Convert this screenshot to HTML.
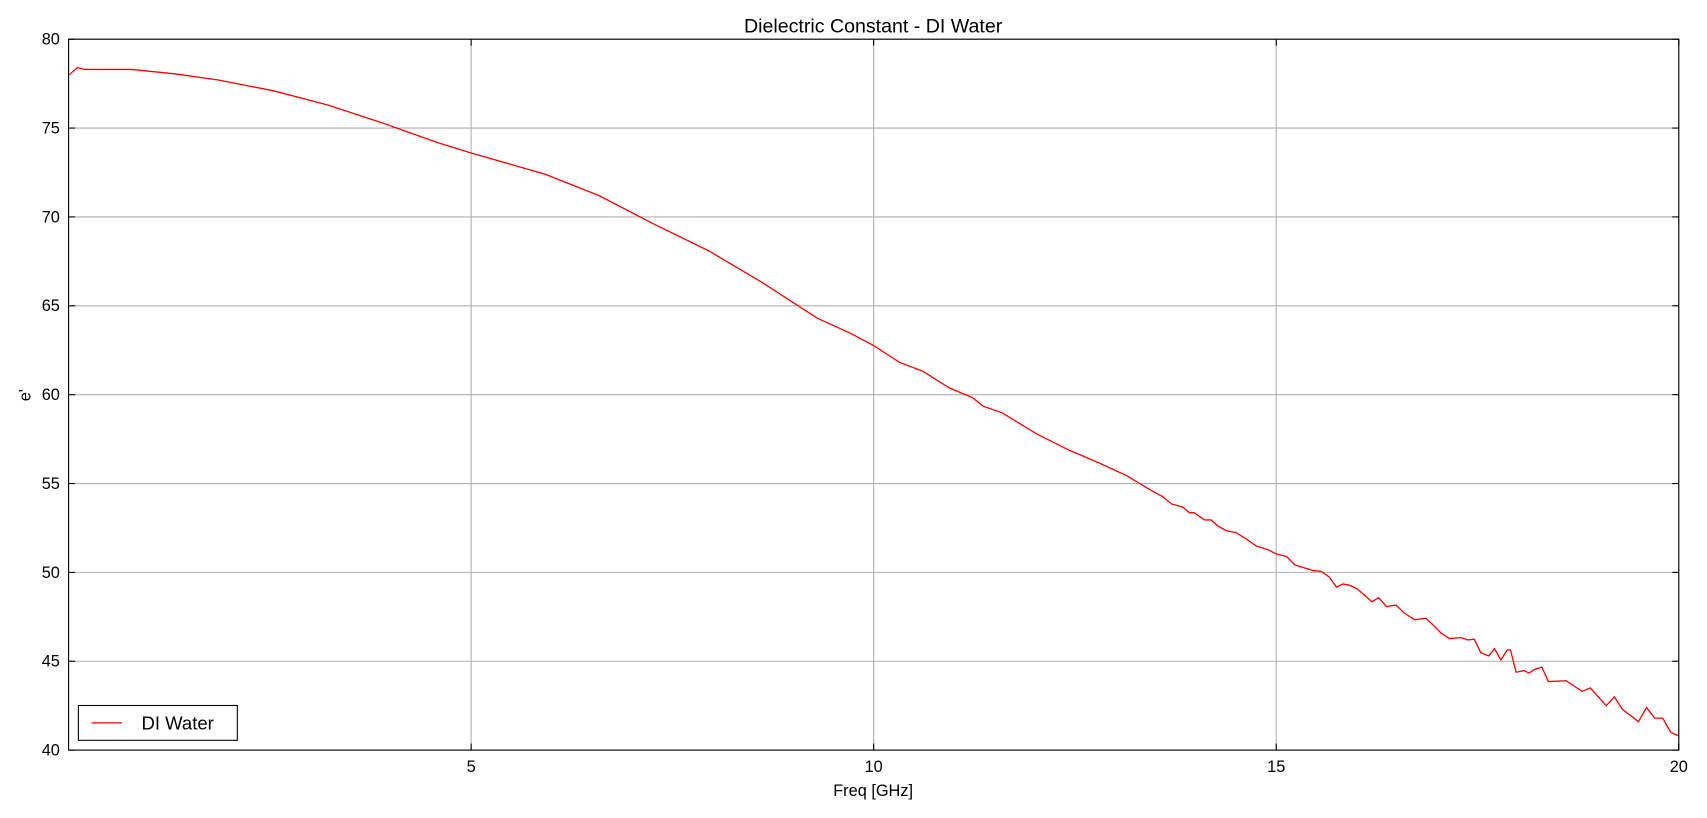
<!DOCTYPE html>
<html><head><meta charset="utf-8"><style>
html,body{margin:0;padding:0;background:#fff;overflow:hidden;}
svg text{font-family:"Liberation Sans","DejaVu Sans",sans-serif;fill:#000;}
</style></head><body>
<svg id="chart" width="1707" height="813" xmlns="http://www.w3.org/2000/svg">
<rect width="1707" height="813" fill="#fff"/>
<g transform="scale(1.0887)">
<g id="grid"></g>
<g id="series"></g>
<rect x="63" y="36" width="1479" height="653" fill="none" stroke="#000" stroke-width="1"/>
<g id="ticks"></g>
<text x="802" y="30" font-size="18" text-anchor="middle">Dielectric Constant - DI Water</text>
<text x="802" y="731" font-size="15" text-anchor="middle">Freq [GHz]</text>
<text x="28" y="363" font-size="15" text-anchor="middle" transform="rotate(-90 28 363)">e'</text>
<g>
<rect x="72" y="648" width="146" height="32" fill="#fff" stroke="#000"/>
<line x1="84" y1="664" x2="112" y2="664" stroke="#f00" stroke-width="1.2"/>
<text x="130" y="670" font-size="17">DI Water</text>
</g>
</g>
</svg>
<script>
const freqs=[0.01,0.11,0.2,0.78,1.32,1.86,2.54,3.22,3.89,4.57,5.0,5.92,6.59,7.27,7.95,8.62,9.3,9.70,10.0,10.32,10.61,10.94,11.23,11.36,11.6,12.02,12.43,12.76,13.14,13.43,13.59,13.70,13.84,13.92,13.98,14.11,14.19,14.28,14.38,14.50,14.63,14.75,14.90,15.00,15.13,15.23,15.46,15.56,15.66,15.75,15.83,15.91,16.01,16.19,16.27,16.37,16.49,16.59,16.72,16.86,16.97,17.05,17.15,17.30,17.38,17.46,17.54,17.64,17.71,17.79,17.87,17.91,17.98,18.08,18.14,18.20,18.30,18.38,18.6,18.8,18.9,19.1,19.2,19.3,19.5,19.6,19.7,19.8,19.9,20];
const values=[78.0,78.4,78.3,78.3,78.05,77.7,77.1,76.3,75.3,74.2,73.6,72.4,71.2,69.6,68.1,66.3,64.3,63.48,62.76,61.82,61.32,60.38,59.82,59.35,58.97,57.8,56.87,56.24,55.45,54.66,54.26,53.85,53.67,53.36,53.36,52.95,52.95,52.6,52.35,52.24,51.88,51.49,51.27,51.04,50.89,50.42,50.1,50.06,49.73,49.17,49.35,49.28,49.06,48.34,48.58,48.08,48.16,47.71,47.33,47.42,46.95,46.58,46.28,46.33,46.2,46.24,45.49,45.3,45.71,45.08,45.64,45.64,44.38,44.48,44.33,44.52,44.67,43.86,43.9,43.3,43.5,42.5,43.0,42.3,41.6,42.4,41.8,41.8,41.0,40.8];
const xTicks=[5,10,15,20];
const yTicks=[40,45,50,55,60,65,70,75,80];
const X0=63,X1=1542,Y0=36,Y1=689,XMIN=0,XMAX=20,YMIN=40,YMAX=80;
function xs(v){return X0+(v-XMIN)/(XMAX-XMIN)*(X1-X0);}
function ys(v){return Y1-(v-YMIN)/(YMAX-YMIN)*(Y1-Y0);}
const NS="http://www.w3.org/2000/svg";
const grid=document.getElementById('grid'),ticks=document.getElementById('ticks'),series=document.getElementById('series');
function mk(tag,attrs,parent){const e=document.createElementNS(NS,tag);for(const k in attrs)e.setAttribute(k,attrs[k]);parent.appendChild(e);return e;}
yTicks.forEach(t=>{
  const y=ys(t);
  const g=mk('line',{x1:X0,x2:X1,y1:y,y2:y,stroke:'#b0b0b0','stroke-width':1},grid);
  
  
  mk('line',{x1:X0,x2:X0+6,y1:y,y2:y,stroke:'#000'},ticks);
  mk('line',{x1:X1,x2:X1-6,y1:y,y2:y,stroke:'#000'},ticks);
  const l=mk('text',{x:X0-8,y:y+5,'font-size':15,'text-anchor':'end'},ticks);
  l.textContent=t;
  
  
});
xTicks.forEach(t=>{
  const x=xs(t);
  const g=mk('line',{x1:x,x2:x,y1:Y0,y2:Y1,stroke:'#b0b0b0','stroke-width':1},grid);
  
  
  mk('line',{x1:x,x2:x,y1:Y1,y2:Y1-6,stroke:'#000'},ticks);
  mk('line',{x1:x,x2:x,y1:Y0,y2:Y0+6,stroke:'#000'},ticks);
  const l=mk('text',{x:x,y:Y1+20,'font-size':15,'text-anchor':'middle'},ticks);
  l.textContent=t;
  
  
});
const pts=freqs.map((f,i)=>xs(f).toFixed(1)+','+ys(values[i]).toFixed(1)).join(' ');
const line=mk('polyline',{points:pts,fill:'none',stroke:'#f00','stroke-width':1.2},series);


</script>
</body></html>
